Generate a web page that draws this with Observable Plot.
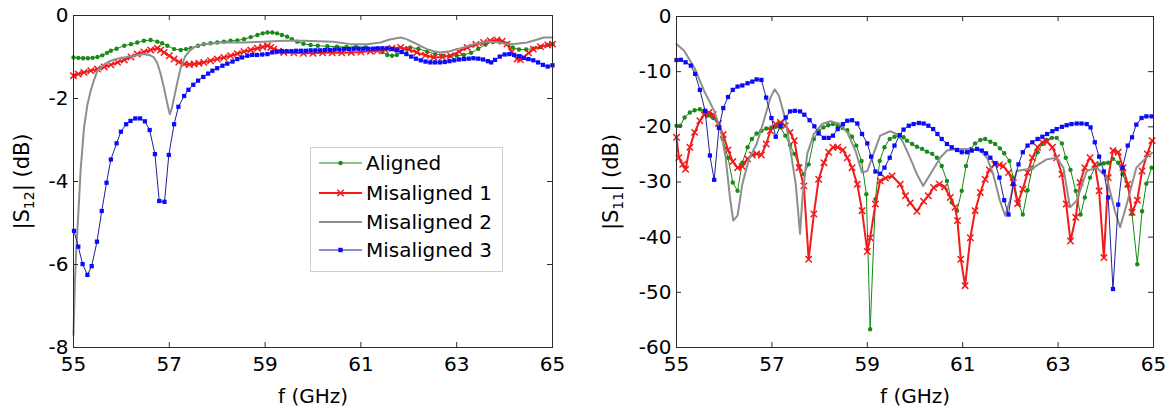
<!DOCTYPE html>
<html>
<head>
<meta charset="utf-8">
<script src="https://cdn.jsdelivr.net/npm/d3@7"></script>
<script src="https://cdn.jsdelivr.net/npm/@observablehq/plot@0.6"></script>
<style>
  html, body { margin: 0; padding: 0; background: #fff; }
  #wrap { position: relative; width: 1170px; height: 412px; display: flex; }
  #wrap svg { display: block; }
  #legend { position: absolute; left: 310px; top: 147px; }
</style>
</head>
<body>
<div id="wrap"></div>
<script>
// ---------- data ----------
const seriesNames = ["Aligned", "Misaligned 1", "Misaligned 2", "Misaligned 3"];
const freqTicks = [55, 57, 59, 61, 63, 65];
const s12Ticks = [-8, -6, -4, -2, 0];
const s11Ticks = [-60, -50, -40, -30, -20, -10, 0];

// |S12| (dB), [f GHz, dB]
const s12Aligned = [[55.0,-1.01],[55.1,-1.02],[55.2,-1.03],[55.3,-1.03],[55.4,-1.02],[55.5,-1.0],[55.6,-0.96],[55.7,-0.9],[55.78,-0.85],[55.9,-0.8],[56.06,-0.73],[56.2,-0.69],[56.33,-0.65],[56.47,-0.61],[56.61,-0.59],[56.75,-0.63],[56.85,-0.67],[56.96,-0.73],[57.1,-0.81],[57.24,-0.83],[57.35,-0.81],[57.45,-0.79],[57.6,-0.73],[57.72,-0.69],[57.86,-0.67],[58.0,-0.65],[58.14,-0.63],[58.28,-0.61],[58.42,-0.6],[58.56,-0.57],[58.7,-0.52],[58.84,-0.47],[58.95,-0.43],[59.05,-0.41],[59.15,-0.41],[59.25,-0.43],[59.35,-0.47],[59.46,-0.51],[59.56,-0.57],[59.67,-0.63],[59.8,-0.68],[59.95,-0.71],[60.1,-0.73],[60.3,-0.74],[60.5,-0.75],[60.7,-0.76],[60.9,-0.76],[61.1,-0.77],[61.3,-0.8],[61.45,-0.88],[61.55,-0.95],[61.65,-0.97],[61.75,-0.95],[61.85,-0.87],[61.95,-0.8],[62.03,-0.77],[62.2,-0.8],[62.38,-0.87],[62.55,-0.93],[62.7,-0.97],[62.85,-0.98],[63.0,-0.97],[63.15,-0.95],[63.3,-0.9],[63.45,-0.8],[63.6,-0.7],[63.75,-0.63],[63.9,-0.61],[64.05,-0.68],[64.17,-0.77],[64.3,-0.82],[64.45,-0.82],[64.6,-0.8],[64.75,-0.76],[64.9,-0.71],[65.0,-0.69]];
const s12Mis1 = [[55.0,-1.45],[55.1,-1.41],[55.22,-1.37],[55.36,-1.33],[55.5,-1.29],[55.64,-1.24],[55.78,-1.19],[55.92,-1.13],[56.06,-1.07],[56.2,-1.0],[56.33,-0.93],[56.47,-0.88],[56.61,-0.83],[56.75,-0.79],[56.82,-0.83],[56.89,-0.89],[57.0,-0.97],[57.1,-1.05],[57.2,-1.12],[57.31,-1.17],[57.42,-1.18],[57.52,-1.17],[57.62,-1.15],[57.72,-1.13],[57.86,-1.09],[58.0,-1.05],[58.14,-1.01],[58.28,-0.97],[58.42,-0.92],[58.56,-0.87],[58.7,-0.83],[58.84,-0.79],[58.95,-0.76],[59.05,-0.73],[59.12,-0.77],[59.18,-0.81],[59.28,-0.86],[59.39,-0.89],[59.6,-0.9],[59.8,-0.91],[60.0,-0.91],[60.2,-0.9],[60.4,-0.9],[60.6,-0.9],[60.8,-0.89],[61.0,-0.88],[61.2,-0.86],[61.34,-0.85],[61.5,-0.82],[61.65,-0.79],[61.83,-0.77],[62.0,-0.82],[62.17,-0.89],[62.35,-0.96],[62.52,-1.01],[62.7,-1.0],[62.87,-0.97],[63.05,-0.87],[63.22,-0.77],[63.4,-0.7],[63.56,-0.65],[63.7,-0.61],[63.84,-0.59],[63.95,-0.62],[64.05,-0.69],[64.15,-0.88],[64.26,-1.05],[64.33,-1.06],[64.4,-1.01],[64.5,-0.9],[64.6,-0.81],[64.75,-0.75],[64.9,-0.71],[65.0,-0.69]];
const s12Mis2 = [[55.0,-7.7],[55.03,-6.4],[55.06,-5.6],[55.1,-4.8],[55.15,-3.7],[55.22,-2.7],[55.29,-2.15],[55.36,-1.81],[55.43,-1.55],[55.5,-1.33],[55.64,-1.18],[55.78,-1.09],[55.92,-1.04],[56.06,-1.01],[56.27,-0.97],[56.47,-0.93],[56.6,-0.96],[56.68,-1.01],[56.75,-1.15],[56.82,-1.41],[56.89,-1.75],[56.96,-2.13],[57.01,-2.38],[57.05,-2.25],[57.1,-1.98],[57.17,-1.6],[57.24,-1.25],[57.33,-0.99],[57.45,-0.81],[57.58,-0.73],[57.72,-0.69],[58.07,-0.65],[58.56,-0.65],[58.97,-0.63],[59.39,-0.61],[59.81,-0.61],[60.1,-0.62],[60.43,-0.63],[60.78,-0.69],[61.13,-0.69],[61.41,-0.65],[61.6,-0.58],[61.83,-0.53],[61.95,-0.57],[62.1,-0.65],[62.25,-0.74],[62.38,-0.81],[62.52,-0.86],[62.66,-0.89],[62.85,-0.86],[63.01,-0.81],[63.2,-0.75],[63.36,-0.69],[63.55,-0.65],[63.7,-0.63],[63.88,-0.65],[64.05,-0.69],[64.25,-0.68],[64.47,-0.65],[64.65,-0.59],[64.82,-0.53],[65.0,-0.53]];
const s12Mis3 = [[55.01,-5.19],[55.1,-5.57],[55.19,-5.99],[55.29,-6.25],[55.38,-6.04],[55.49,-5.45],[55.59,-4.71],[55.69,-4.03],[55.78,-3.47],[55.9,-3.08],[55.99,-2.8],[56.1,-2.62],[56.19,-2.54],[56.29,-2.48],[56.39,-2.48],[56.49,-2.55],[56.59,-2.76],[56.7,-3.34],[56.79,-4.47],[56.9,-4.49],[56.99,-3.36],[57.1,-2.62],[57.19,-2.2],[57.31,-1.94],[57.4,-1.79],[57.5,-1.67],[57.6,-1.57],[57.71,-1.48],[57.81,-1.4],[57.9,-1.33],[58.0,-1.27],[58.11,-1.21],[58.21,-1.16],[58.32,-1.11],[58.42,-1.05],[58.52,-1.01],[58.63,-0.97],[58.73,-0.95],[58.83,-0.95],[58.94,-0.94],[59.05,-0.93],[59.15,-0.89],[59.25,-0.87],[59.35,-0.86],[59.45,-0.86],[59.55,-0.86],[59.65,-0.85],[59.75,-0.85],[59.85,-0.85],[59.95,-0.84],[60.05,-0.84],[60.15,-0.84],[60.25,-0.83],[60.35,-0.83],[60.45,-0.82],[60.55,-0.82],[60.65,-0.81],[60.75,-0.81],[60.85,-0.8],[60.95,-0.8],[61.05,-0.8],[61.15,-0.8],[61.25,-0.8],[61.35,-0.79],[61.45,-0.79],[61.55,-0.79],[61.65,-0.81],[61.75,-0.84],[61.85,-0.88],[61.95,-0.93],[62.05,-0.99],[62.15,-1.04],[62.25,-1.08],[62.35,-1.11],[62.45,-1.13],[62.55,-1.13],[62.65,-1.13],[62.75,-1.12],[62.85,-1.1],[62.95,-1.08],[63.05,-1.06],[63.15,-1.05],[63.25,-1.04],[63.35,-1.03],[63.45,-1.04],[63.55,-1.06],[63.65,-1.1],[63.72,-1.13],[63.8,-1.07],[63.9,-0.99],[64.0,-0.94],[64.1,-0.93],[64.2,-0.95],[64.3,-0.98],[64.4,-1.02],[64.5,-1.05],[64.6,-1.08],[64.7,-1.13],[64.8,-1.19],[64.9,-1.23],[65.0,-1.2]];

// |S11| (dB), [f GHz, dB]
const s11Aligned = [[55.0,-19.8],[55.08,-19.8],[55.17,-18.3],[55.28,-17.4],[55.38,-17.0],[55.49,-16.8],[55.58,-17.1],[55.68,-17.9],[55.77,-18.4],[55.88,-19.6],[55.97,-22.2],[56.08,-25.6],[56.18,-30.1],[56.28,-31.6],[56.38,-26.5],[56.49,-23.7],[56.58,-22.2],[56.68,-21.2],[56.78,-20.7],[56.88,-20.3],[56.99,-20.1],[57.08,-20.0],[57.18,-20.1],[57.28,-21.6],[57.38,-23.3],[57.47,-24.9],[57.57,-27.1],[57.67,-28.6],[57.77,-26.8],[57.88,-22.2],[57.98,-20.7],[58.08,-20.1],[58.18,-19.7],[58.28,-19.5],[58.38,-19.8],[58.48,-20.2],[58.58,-20.6],[58.68,-21.8],[58.77,-23.4],[58.88,-26.2],[58.98,-32.2],[59.06,-56.7],[59.17,-33.1],[59.26,-26.2],[59.36,-23.7],[59.47,-22.2],[59.57,-21.8],[59.66,-21.6],[59.76,-21.9],[59.83,-22.5],[59.94,-23.1],[60.04,-23.6],[60.15,-24.0],[60.25,-24.5],[60.36,-24.9],[60.46,-25.6],[60.56,-27.1],[60.67,-29.8],[60.77,-33.7],[60.88,-35.2],[60.98,-31.6],[61.07,-27.1],[61.17,-24.0],[61.26,-23.0],[61.37,-22.4],[61.47,-22.2],[61.58,-22.7],[61.68,-23.1],[61.78,-23.9],[61.87,-24.8],[61.98,-26.2],[62.06,-29.2],[62.17,-34.0],[62.26,-35.9],[62.36,-31.5],[62.46,-27.4],[62.57,-24.6],[62.67,-23.1],[62.76,-22.4],[62.87,-22.0],[62.97,-22.0],[63.08,-23.0],[63.16,-25.6],[63.26,-27.8],[63.37,-31.6],[63.47,-35.9],[63.56,-32.8],[63.67,-29.2],[63.77,-27.4],[63.86,-26.8],[63.96,-26.6],[64.05,-26.5],[64.15,-25.8],[64.26,-26.5],[64.35,-28.6],[64.46,-30.7],[64.55,-35.8],[64.66,-44.9],[64.76,-35.3],[64.85,-30.3],[64.96,-27.4]];
const s11Mis1 = [[55.0,-21.9],[55.05,-25.6],[55.13,-26.8],[55.19,-27.7],[55.28,-23.7],[55.38,-21.0],[55.49,-18.9],[55.58,-17.8],[55.68,-17.4],[55.77,-17.8],[55.88,-19.4],[55.98,-21.4],[56.08,-24.2],[56.18,-26.3],[56.28,-27.4],[56.38,-27.2],[56.49,-25.8],[56.59,-25.1],[56.68,-24.9],[56.78,-25.1],[56.88,-23.1],[56.97,-20.7],[57.08,-19.5],[57.18,-19.2],[57.28,-19.8],[57.38,-21.0],[57.47,-22.5],[57.57,-27.4],[57.67,-30.7],[57.77,-44.0],[57.88,-35.8],[57.98,-29.5],[58.09,-26.5],[58.19,-24.6],[58.28,-23.7],[58.38,-23.7],[58.49,-24.2],[58.58,-25.6],[58.68,-27.4],[58.79,-30.4],[58.89,-35.2],[59.0,-42.6],[59.06,-40.1],[59.17,-34.0],[59.27,-29.8],[59.38,-29.3],[59.52,-28.9],[59.69,-30.4],[59.8,-32.5],[59.9,-33.8],[60.04,-35.3],[60.18,-33.5],[60.28,-32.5],[60.39,-31.0],[60.51,-30.4],[60.62,-30.9],[60.74,-32.8],[60.84,-34.6],[60.89,-37.0],[60.96,-44.0],[61.05,-48.8],[61.16,-40.1],[61.26,-35.2],[61.37,-31.9],[61.47,-29.5],[61.56,-27.8],[61.67,-26.8],[61.77,-26.9],[61.85,-27.1],[61.96,-28.3],[62.06,-30.1],[62.15,-33.9],[62.26,-31.3],[62.36,-28.3],[62.46,-25.6],[62.57,-23.7],[62.67,-22.8],[62.77,-22.7],[62.88,-23.7],[62.97,-25.6],[63.08,-28.6],[63.17,-34.0],[63.26,-40.7],[63.37,-36.4],[63.46,-30.1],[63.56,-27.4],[63.67,-25.6],[63.77,-26.8],[63.86,-31.6],[63.96,-43.7],[64.05,-29.2],[64.15,-24.3],[64.26,-24.6],[64.36,-27.4],[64.46,-30.4],[64.55,-35.5],[64.66,-33.3],[64.76,-28.0],[64.87,-24.9],[64.97,-22.5]];
const s11Mis2 = [[55.0,-5.0],[55.16,-6.2],[55.37,-9.2],[55.58,-13.5],[55.79,-17.1],[55.93,-20.7],[56.03,-25.6],[56.12,-32.8],[56.19,-37.0],[56.28,-36.1],[56.38,-30.4],[56.52,-25.8],[56.68,-23.1],[56.83,-18.9],[56.97,-14.7],[57.06,-13.2],[57.15,-14.4],[57.29,-18.9],[57.39,-24.3],[57.5,-30.4],[57.59,-39.4],[57.64,-32.8],[57.74,-24.9],[57.88,-21.3],[58.05,-19.5],[58.23,-19.0],[58.4,-19.4],[58.58,-21.0],[58.75,-24.3],[58.89,-28.3],[59.0,-28.0],[59.13,-24.9],[59.27,-21.6],[59.48,-20.8],[59.62,-21.3],[59.73,-22.5],[59.83,-24.3],[59.94,-26.5],[60.04,-28.6],[60.17,-30.7],[60.32,-28.6],[60.53,-25.6],[60.67,-24.3],[60.88,-24.0],[61.09,-24.0],[61.37,-24.3],[61.51,-25.6],[61.64,-28.6],[61.78,-33.4],[61.89,-36.1],[61.99,-33.4],[62.13,-28.0],[62.34,-27.7],[62.48,-27.4],[62.76,-25.9],[62.97,-25.6],[63.11,-27.4],[63.25,-34.6],[63.39,-33.4],[63.6,-28.0],[63.81,-27.4],[64.02,-29.2],[64.19,-35.2],[64.3,-38.2],[64.44,-34.0],[64.64,-27.4],[64.85,-25.6],[64.97,-24.7]];
const s11Mis3 = [[55.0,-7.9],[55.09,-7.85],[55.19,-8.3],[55.3,-8.9],[55.39,-10.4],[55.49,-13.3],[55.6,-17.1],[55.7,-25.2],[55.79,-29.6],[55.89,-20.2],[55.98,-16.6],[56.08,-14.6],[56.18,-13.3],[56.28,-12.7],[56.38,-12.5],[56.49,-12.1],[56.59,-11.8],[56.68,-11.4],[56.78,-11.5],[56.88,-14.7],[56.99,-18.4],[57.08,-21.8],[57.18,-19.8],[57.29,-18.3],[57.38,-17.2],[57.48,-17.1],[57.59,-17.2],[57.68,-17.8],[57.79,-18.8],[57.89,-19.9],[57.98,-21.2],[58.09,-22.0],[58.19,-22.0],[58.28,-21.6],[58.38,-20.4],[58.49,-19.5],[58.58,-18.9],[58.68,-18.8],[58.79,-19.4],[58.89,-21.3],[59.0,-23.0],[59.08,-25.4],[59.17,-28.1],[59.27,-28.5],[59.36,-27.4],[59.47,-25.6],[59.57,-23.4],[59.68,-21.5],[59.76,-20.5],[59.87,-19.8],[59.97,-19.5],[60.08,-19.3],[60.18,-19.4],[60.28,-19.8],[60.38,-20.4],[60.47,-21.3],[60.56,-22.2],[60.67,-23.1],[60.77,-23.7],[60.88,-24.2],[60.98,-24.6],[61.09,-24.6],[61.19,-24.3],[61.3,-24.0],[61.4,-24.3],[61.49,-24.8],[61.58,-25.6],[61.68,-26.6],[61.77,-29.2],[61.87,-33.3],[61.96,-35.9],[62.06,-30.4],[62.17,-26.8],[62.26,-24.6],[62.36,-23.4],[62.46,-22.8],[62.57,-22.2],[62.67,-21.8],[62.77,-21.3],[62.88,-20.8],[62.97,-20.4],[63.08,-20.0],[63.18,-19.7],[63.28,-19.5],[63.39,-19.4],[63.49,-19.4],[63.6,-19.5],[63.68,-20.1],[63.77,-22.8],[63.86,-25.4],[63.96,-28.1],[64.05,-32.8],[64.15,-49.4],[64.26,-34.1],[64.35,-27.4],[64.46,-23.4],[64.55,-21.9],[64.64,-19.6],[64.75,-18.4],[64.85,-18.1],[64.96,-18.1]];

// ---------- styling ----------
const FONT = "'DejaVu Sans', 'Liberation Sans', Arial, sans-serif";
const FS = 20;
const AX = "#2b2b2b";
const styles = [
  {line: "#138a13", width: 1, marker: "circle", fill: "#178c17", r: 2.2},
  {line: "#f21a1a", width: 2, marker: "times", stroke: "#f21a1a", r: 3},
  {line: "#8e8e8e", width: 2, marker: null},
  {line: "#1f1fa0", width: 1, marker: "square", fill: "#0a0aff", r: 2.4}
];

function seriesMarks(list) {
  const marks = [];
  list.forEach((pts, i) => {
    const s = styles[i];
    const rows = pts.map(([f, v]) => ({f, v, name: seriesNames[i]}));
    marks.push(Plot.line(rows, {x: "f", y: "v", stroke: s.line, strokeWidth: s.width}));
    if (s.marker === "times") {
      marks.push(Plot.dot(rows, {x: "f", y: "v", symbol: "times", r: s.r, stroke: s.stroke, strokeWidth: 1.5}));
    } else if (s.marker) {
      marks.push(Plot.dot(rows, {x: "f", y: "v", symbol: s.marker, r: s.r, fill: s.fill, stroke: "none"}));
    }
  });
  return marks;
}

function panel({list, ydomain, yticks, marginLeft, marginRight, marginTop, sub, labelDx}) {
  const W = 585, H = 412, marginBottom = 65;
  const fw = W - marginLeft - marginRight, fh = H - marginTop - marginBottom;
  const labelText = "|S" + sub + "| (dB)";
  const svg = Plot.plot({
    width: W, height: H, marginLeft, marginRight, marginTop, marginBottom,
    style: {fontFamily: FONT, fontSize: FS + "px", color: "#000", background: "#fff", overflow: "visible"},
    x: {domain: [55, 65]},
    y: {domain: ydomain},
    marks: [
      ...seriesMarks(list),
      Plot.frame({stroke: AX, strokeWidth: 1}),
      Plot.ruleX(freqTicks, {x: d => d, insetTop: fh - 5, stroke: AX}),
      Plot.ruleX(freqTicks, {x: d => d, insetBottom: fh - 5, stroke: AX}),
      Plot.ruleY(yticks, {y: d => d, insetRight: fw - 5, stroke: AX}),
      Plot.ruleY(yticks, {y: d => d, insetLeft: fw - 5, stroke: AX}),
      Plot.axisX({ticks: freqTicks, tickSize: 0, tickPadding: 9, label: null, tickFormat: d => String(d), fontSize: FS}),
      Plot.axisY({ticks: yticks, tickSize: 0, tickPadding: 5, label: null, tickFormat: d => String(d), fontSize: FS}),
      Plot.text(["f (GHz)"], {frameAnchor: "bottom", dy: 49, text: d => d, fontSize: FS, lineAnchor: "middle", fill: "#000"}),
      Plot.text([labelText], {frameAnchor: "left", dx: labelDx, rotate: -90, text: d => d, fontSize: 21, textAnchor: "middle", lineAnchor: "middle", fill: "#000"})
    ]
  });
  // subscript in the y label
  for (const t of svg.querySelectorAll("text")) {
    if (t.textContent === labelText) {
      const ns = "http://www.w3.org/2000/svg";
      t.textContent = "";
      const a = document.createElementNS(ns, "tspan"); a.textContent = "|S";
      const b = document.createElementNS(ns, "tspan"); b.textContent = sub; b.setAttribute("font-size", "14"); b.setAttribute("dy", "5");
      const c = document.createElementNS(ns, "tspan"); c.textContent = "| (dB)"; c.setAttribute("dy", "-5");
      t.append(a, b, c);
    }
  }
  return svg;
}

const wrap = document.getElementById("wrap");
wrap.appendChild(panel({list: [s12Aligned, s12Mis1, s12Mis2, s12Mis3], ydomain: [-8, 0], yticks: s12Ticks,
  marginLeft: 73, marginRight: 33, marginTop: 15, sub: "12", labelDx: -51}));
wrap.appendChild(panel({list: [s11Aligned, s11Mis1, s11Mis2, s11Mis3], ydomain: [-60, 0], yticks: s11Ticks,
  marginLeft: 91, marginRight: 17, marginTop: 16, sub: "11", labelDx: -65}));

// ---------- legend (left panel) ----------
const lg = d3.select("#wrap").append("svg").attr("id", "legend").attr("width", 194).attr("height", 126);
lg.append("rect").attr("x", 0.5).attr("y", 0.5).attr("width", 192).attr("height", 124).attr("fill", "#fff").attr("stroke", "#cfcfcf");
const rowY = [16, 46, 75, 103];
seriesNames.forEach((name, i) => {
  const s = styles[i], y = rowY[i], g = lg.append("g");
  g.append("line").attr("x1", 9).attr("x2", 52).attr("y1", y).attr("y2", y).attr("stroke", s.line).attr("stroke-width", s.width);
  if (s.marker === "circle") g.append("circle").attr("cx", 30.5).attr("cy", y).attr("r", s.r).attr("fill", s.fill);
  if (s.marker === "square") g.append("rect").attr("x", 30.5 - 2.2).attr("y", y - 2.2).attr("width", 4.4).attr("height", 4.4).attr("fill", s.fill);
  if (s.marker === "times") g.append("path").attr("d", `M${27.3},${y-3.2}L${33.7},${y+3.2}M${27.3},${y+3.2}L${33.7},${y-3.2}`).attr("stroke", s.stroke).attr("stroke-width", 1.5);
  g.append("text").attr("x", 56).attr("y", y).attr("dy", "0.36em").attr("font-size", FS).attr("font-family", FONT).attr("fill", "#000").text(name);
});
</script>
</body>
</html>
